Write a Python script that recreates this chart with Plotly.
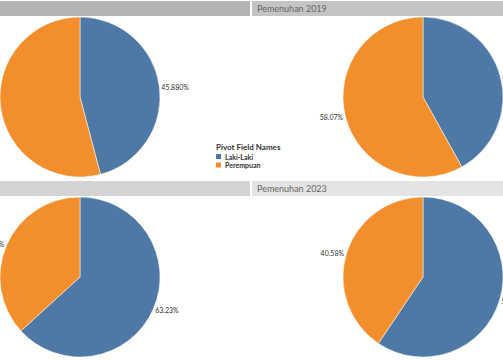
import plotly.graph_objects as go

# ---- data ----
categories = ["Laki-Laki", "Perempuan"]
colors = ["#4e79a7", "#f28e2b"]
panel_titles = ["", "Pemenuhan 2019", "", "Pemenuhan 2023"]
share_tl = [45.88, 54.12]
share_tr = [41.93, 58.07]
share_bl = [63.23, 36.77]
share_br = [59.42, 40.58]
labels_tl = ["45.880%", ""]          # orange label lies outside the visible area
labels_tr = ["41.93%", "58.07%"]
labels_bl = ["63.23%", "36.77%"]
labels_br = ["59.42%", "40.58%"]

W, H = 503, 360
fig = go.Figure()

def px(v):
    return v / W

def py(v):  # v measured from top
    return 1 - v / H

pies = [
    (share_tl, labels_tl, (0, 160), (17, 177)),
    (share_tr, labels_tr, (343, 503), (17, 177)),
    (share_bl, labels_bl, (0, 160), (197, 357)),
    (share_br, labels_br, (343, 503), (197, 357)),
]
for vals, txt, (x0, x1), (y0, y1) in pies:
    fig.add_trace(go.Pie(
        labels=categories, values=vals, text=txt, textinfo="text",
        textposition="outside", sort=False, direction="clockwise", rotation=0,
        marker=dict(colors=colors, line=dict(color="white", width=0.5)),
        textfont=dict(size=7, color="#333333", family="Lato, Arial"),
        domain=dict(x=[px(x0), px(x1)], y=[py(y1), py(y0)]),
        showlegend=False, hoverinfo="label+percent", automargin=False,
    ))

shapes = []
annotations = []
headers = [
    ((0, 250), (1, 16), "#b4b4b4", panel_titles[0]),
    ((252, 503), (1, 16), "#c4c4c4", panel_titles[1]),
    ((0, 250), (181, 196), "#d4d4d4", panel_titles[2]),
    ((252, 503), (181, 196), "#e4e4e4", panel_titles[3]),
]
for (x0, x1), (y0, y1), col, t in headers:
    shapes.append(dict(type="rect", xref="paper", yref="paper",
                       x0=px(x0), x1=px(x1), y0=py(y1), y1=py(y0),
                       fillcolor=col, line=dict(width=0), layer="below"))
    if t:
        annotations.append(dict(text=t, xref="paper", yref="paper",
                                x=px(x0 + 3), y=py((y0 + y1) / 2),
                                xanchor="left", yanchor="middle", showarrow=False,
                                font=dict(size=9, color="#666666", family="Lato, Arial")))

# legend (manual, compact)
annotations.append(dict(text="<b>Pivot Field Names</b>", xref="paper", yref="paper",
                        x=px(214), y=py(147), xanchor="left", yanchor="middle",
                        showarrow=False, font=dict(size=8, color="#333333", family="Lato, Arial")))
for i, (cat, col) in enumerate(zip(categories, colors)):
    yc = 156.5 + i * 8.5
    shapes.append(dict(type="rect", xref="paper", yref="paper",
                       x0=px(216), x1=px(221), y0=py(yc + 2.5), y1=py(yc - 2.5),
                       fillcolor=col, line=dict(width=0)))
    annotations.append(dict(text="<b>" + cat + "</b>", xref="paper", yref="paper",
                            x=px(223), y=py(yc), xanchor="left", yanchor="middle",
                            showarrow=False,
                            font=dict(size=7, color="#333333", family="Lato, Arial")))

fig.update_layout(width=W, height=H,
                  margin=dict(l=0, r=0, t=0, b=0, pad=0, autoexpand=False),
                  paper_bgcolor="white", plot_bgcolor="white",
                  shapes=shapes, annotations=annotations)
fig.write_html("out.html", config={"displayModeBar": False},
               post_script="document.body.style.margin='0';document.body.style.overflow='hidden';")
